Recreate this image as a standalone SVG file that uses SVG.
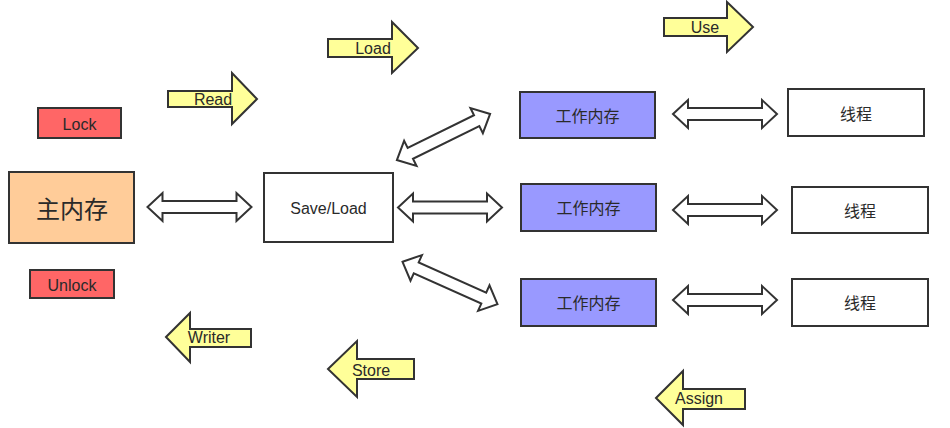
<svg xmlns="http://www.w3.org/2000/svg" width="950" height="428" viewBox="0 0 950 428">
<style>
text{font-family:"Liberation Sans","Noto Sans CJK SC",Arial,sans-serif;fill:#2a2a2a;text-anchor:middle;dominant-baseline:central;font-size:16px}
.box{stroke:#333;stroke-width:2}
.red{fill:#FF6666}
.blue{fill:#9999FF}
.white{fill:#FFFFFF}
.peach{fill:#FFCC99}
.yarrow{fill:#FFFF99;stroke:#333;stroke-width:2;stroke-linejoin:miter}
.darrow{fill:#FFFFFF;stroke:#333;stroke-width:2;stroke-linejoin:miter}
.cjk{font-family:"Noto Sans CJK SC","Liberation Sans",sans-serif}
</style>
<defs>
<path id="da104" d="M-52,0 L-37,-14 L-37,-6 L37,-6 L37,-14 L52,0 L37,14 L37,6 L-37,6 L-37,14 Z"/>
</defs>
<g id="lock"><rect class="box red" x="38" y="108" width="83" height="30"/><text x="79.5" y="124">Lock</text></g>
<g id="unlock"><rect class="box red" x="30" y="270" width="84" height="28"/><text x="72" y="285">Unlock</text></g>
<g id="main-memory"><rect class="box peach" x="9" y="172" width="125" height="71"/><text class="cjk" x="72" y="207" style="font-size:24px">主内存</text></g>
<g id="save-load"><rect class="box white" x="264" y="173" width="129" height="69"/><text x="328.5" y="208">Save/Load</text></g>
<g id="work1"><rect class="box blue" x="520" y="92" width="135" height="46"/><text class="cjk" x="587.5" y="115">工作内存</text></g>
<g id="work2"><rect class="box blue" x="521" y="184" width="135" height="47"/><text class="cjk" x="588.5" y="207">工作内存</text></g>
<g id="work3"><rect class="box blue" x="521" y="279" width="135" height="47"/><text class="cjk" x="588.5" y="302">工作内存</text></g>
<g id="thread1"><rect class="box white" x="788" y="89" width="136" height="47"/><text class="cjk" x="856" y="113">线程</text></g>
<g id="thread2"><rect class="box white" x="792" y="187" width="136" height="46"/><text class="cjk" x="860" y="210">线程</text></g>
<g id="thread3"><rect class="box white" x="792" y="279" width="136" height="47"/><text class="cjk" x="860" y="302">线程</text></g>
<g id="op-read"><polygon class="yarrow" points="168,91 232,91 232,73 257,99 232,124 232,107 168,107"/><text x="213" y="99">Read</text></g>
<g id="op-load"><polygon class="yarrow" points="328,39 392,39 392,22 418,48 392,73 392,57 328,57"/><text x="373" y="48">Load</text></g>
<g id="op-use"><polygon class="yarrow" points="664,18 727,18 727,2 753,27 727,52 727,36 664,36"/><text x="705" y="27">Use</text></g>
<g id="op-writer"><polygon class="yarrow" points="166,337 190,313 190,329 251,329 251,347 190,347 190,362"/><text x="209" y="337">Writer</text></g>
<g id="op-store"><polygon class="yarrow" points="328,369 357,341 357,359 414,359 414,379 357,379 357,397"/><text x="371" y="370">Store</text></g>
<g id="op-assign"><polygon class="yarrow" points="656,398 683,371 683,389 745,389 745,409 683,409 683,425"/><text x="699" y="398">Assign</text></g>
<g id="connectors">
<use href="#da104" class="darrow" transform="translate(199.5,207)"/>
<use href="#da104" class="darrow" transform="translate(450,207.5)"/>
<use href="#da104" class="darrow" transform="translate(443.5,137) rotate(-26.3)"/>
<use href="#da104" class="darrow" transform="translate(450,283) rotate(24.1)"/>
<use href="#da104" class="darrow" transform="translate(725,114)"/>
<use href="#da104" class="darrow" transform="translate(725,210)"/>
<use href="#da104" class="darrow" transform="translate(725,300)"/>
</g>
</svg>
